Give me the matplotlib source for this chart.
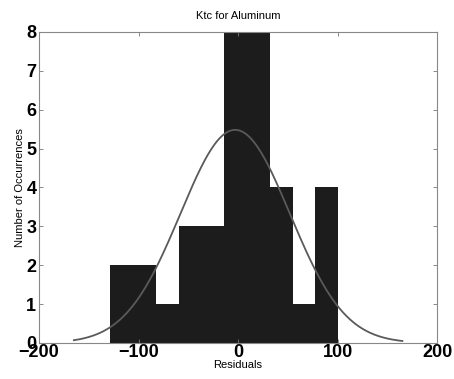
import numpy as np
import matplotlib
matplotlib.use('Agg')
from matplotlib import pyplot as plt

# Residual histogram, bin edges and counts
bin_edges = [-128.5, -105.6, -82.7, -59.8, -36.9, -14.0, 8.9, 31.8, 54.7, 77.6, 100.5]
counts = [2, 2, 1, 3, 3, 8, 8, 4, 1, 4]

# Fitted normal curve: mean, std, peak height and plotted range
fit_mean = -3.0
fit_std = 55.0
fit_peak = 5.48
fit_range = (-165, 165)

plt.rcParams['font.family'] = ['Liberation Sans', 'DejaVu Sans']

fig = plt.figure(figsize=(4.54, 3.79), dpi=100)
ax = fig.add_axes([0.086, 0.095, 0.877, 0.821])

widths = np.diff(bin_edges)
ax.bar(bin_edges[:-1], counts, width=widths, align='edge',
       color='#1c1c1c', linewidth=0)

x = np.linspace(fit_range[0], fit_range[1], 300)
y = fit_peak * np.exp(-0.5 * ((x - fit_mean) / fit_std) ** 2)
ax.plot(x, y, color='#5a5a5a', linewidth=1.3)

ax.set_xlim(-200, 200)
ax.set_ylim(0, 8)
ax.set_xticks([-200, -100, 0, 100, 200])
ax.set_yticks(range(0, 9))
ax.tick_params(direction='in', length=3, width=0.6, color='#777777',
               labelsize=13, pad=1, top=True, right=True)
ax.tick_params(axis='y', pad=2)
for lbl in ax.get_xticklabels() + ax.get_yticklabels():
    lbl.set_fontweight('bold')

for s in ax.spines.values():
    s.set_color('#888888')
    s.set_linewidth(0.8)
    s.set_linestyle((0, (2, 1)))

ax.set_title('Ktc for Aluminum', fontsize=8, pad=9)
ax.set_xlabel('Residuals', fontsize=8, labelpad=-1)
ax.set_ylabel('Number of Occurrences', fontsize=8, labelpad=1)

plt.savefig('out.png', dpi=100)
